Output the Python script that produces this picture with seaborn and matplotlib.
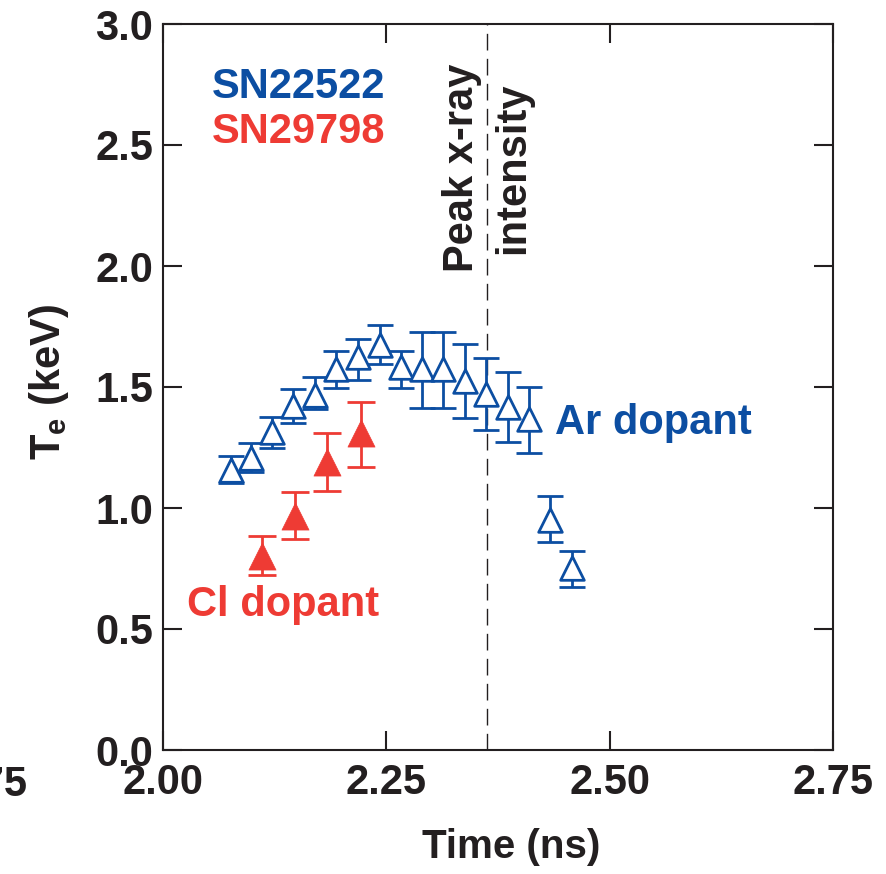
import matplotlib
matplotlib.use("Agg")
import matplotlib.pyplot as plt
import seaborn as sns
import numpy as np
import pandas as pd

# ---- data ----
blue_time = [2.076, 2.099, 2.122, 2.146, 2.170, 2.194, 2.218, 2.243, 2.266,
             2.290, 2.313, 2.338, 2.362, 2.386, 2.410, 2.433, 2.458]
blue_te = [1.158, 1.208, 1.314, 1.420, 1.467, 1.576, 1.626, 1.674, 1.582,
           1.576, 1.576, 1.525, 1.473, 1.417, 1.367, 0.950, 0.753]
blue_hi = [1.216, 1.270, 1.378, 1.490, 1.540, 1.647, 1.700, 1.758, 1.650,
           1.729, 1.729, 1.676, 1.618, 1.560, 1.502, 1.051, 0.823]
blue_lo = [1.105, 1.150, 1.250, 1.350, 1.410, 1.494, 1.527, 1.593, 1.494,
           1.415, 1.415, 1.370, 1.324, 1.274, 1.229, 0.861, 0.674]

red_time = [2.111, 2.148, 2.184, 2.222]
red_te = [0.800, 0.968, 1.190, 1.309]
red_hi = [0.885, 1.067, 1.311, 1.436]
red_lo = [0.724, 0.873, 1.072, 1.171]

peak_time = 2.363

x_ticks = [2.00, 2.25, 2.50, 2.75]
x_labels = ["2.00", "2.25", "2.50", "2.75"]
y_ticks = [0.0, 0.5, 1.0, 1.5, 2.0, 2.5, 3.0]
y_labels = ["0.0", "0.5", "1.0", "1.5", "2.0", "2.5", "3.0"]

BLUE = "#0C4EA2"
RED = "#EE3B34"
INK = "#231F20"

sns.set_theme(style="ticks")
plt.rcParams["font.family"] = ["Liberation Sans", "DejaVu Sans"]
plt.rcParams["font.weight"] = "bold"
plt.rcParams["mathtext.default"] = "regular"

fig = plt.figure(figsize=(8.86, 8.74), dpi=100)
ax = fig.add_axes([163/886, 124/874, 670/886, 726/874])

blue_df = pd.DataFrame({"time": blue_time, "te": blue_te})
red_df = pd.DataFrame({"time": red_time, "te": red_te})

# error bars
b_err = [np.array(blue_te) - np.array(blue_lo), np.array(blue_hi) - np.array(blue_te)]
r_err = [np.array(red_te) - np.array(red_lo), np.array(red_hi) - np.array(red_te)]
ax.errorbar(blue_time, blue_te, yerr=b_err, fmt="none", ecolor=BLUE,
            elinewidth=2.0, capsize=9.6, capthick=2.0, zorder=2)
ax.errorbar(red_time, red_te, yerr=r_err, fmt="none", ecolor=RED,
            elinewidth=2.0, capsize=10, capthick=2.0, zorder=2)

# markers
sns.scatterplot(data=blue_df, x="time", y="te", marker="^", s=17**2,
                facecolor="white", edgecolor=BLUE, linewidth=2.0, ax=ax,
                zorder=3)
sns.scatterplot(data=red_df, x="time", y="te", marker="^", s=19.5**2,
                color=RED, edgecolor=RED, linewidth=0.5, ax=ax, zorder=3)

# peak x-ray line
ax.axvline(peak_time, color=INK, lw=1.0, ls=(0, (12, 6)), zorder=1)

ax.set_xlim(2.0, 2.75)
ax.set_ylim(0.0, 3.0)
ax.set_xticks(x_ticks)
ax.set_xticklabels(x_labels)
ax.set_yticks(y_ticks)
ax.set_yticklabels(y_labels)
ax.tick_params(direction="in", length=14, width=1.5, colors=INK,
               top=True, right=True, labelsize=30)
ax.tick_params(axis="x", pad=9)
ax.tick_params(axis="y", pad=7)
for lab in ax.get_xticklabels() + ax.get_yticklabels():
    lab.set_fontweight("bold")
for sp in ax.spines.values():
    sp.set_linewidth(1.5)
    sp.set_color(INK)

ax.set_xlabel("Time (ns)", fontsize=29, fontweight="bold", color=INK)
ax.xaxis.set_label_coords(0.52, -0.108)
ax.set_ylabel("T$_\\mathregular{e}$ (keV)", fontsize=30, fontweight="bold",
              color=INK)
ax.yaxis.set_label_coords(-0.138, 0.507)

# clipped tick label at the far left of the reference
fig.text(27/886, 1 - 785/874, "1.75", ha="right", va="center", fontsize=30,
         fontweight="bold", color=INK)

# annotations
ax.text(2.055, 2.739, "SN22522", color=BLUE, fontsize=30, fontweight="bold",
        ha="left", va="center")
ax.text(2.055, 2.553, "SN29798", color=RED, fontsize=30, fontweight="bold",
        ha="left", va="center")
ax.text(2.439, 1.353, "Ar dopant", color=BLUE, fontsize=30, fontweight="bold",
        ha="left", va="center")
ax.text(2.027, 0.600, "Cl dopant", color=RED, fontsize=30, fontweight="bold",
        ha="left", va="center")
ax.text(2.335, 2.404, "Peak x-ray", color=INK, fontsize=30, fontweight="bold",
        ha="center", va="center", rotation=90)
ax.text(2.392, 2.404, "intensity", color=INK, fontsize=30, fontweight="bold",
        ha="center", va="center", rotation=90)

fig.savefig("out.png", dpi=100)
